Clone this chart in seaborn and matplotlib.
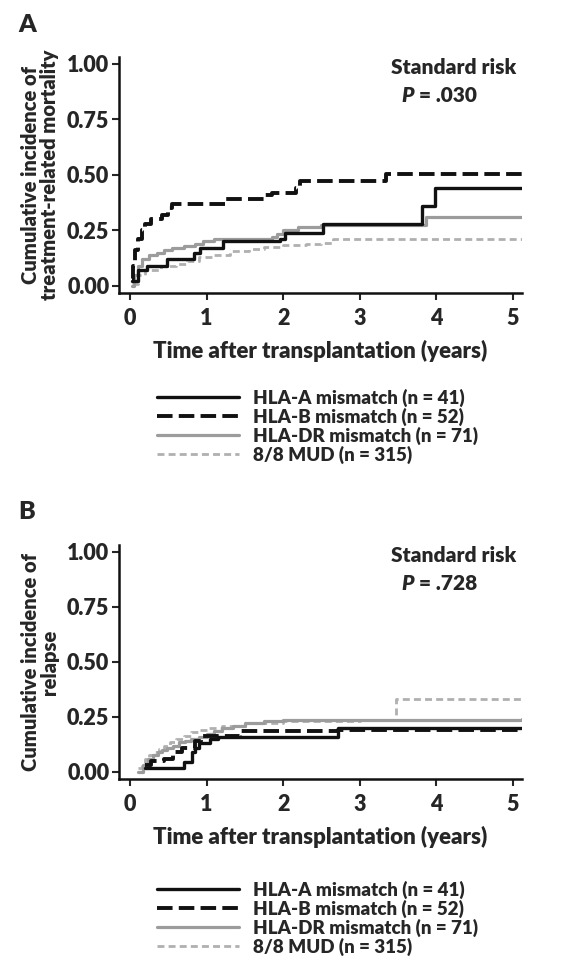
import matplotlib
matplotlib.use("Agg")
import matplotlib.pyplot as plt
import seaborn as sns
import pandas as pd

sns.set_theme(style="white")
plt.rcParams['font.family'] = ['Lato', 'DejaVu Sans']
plt.rcParams['font.weight'] = 'heavy'
W = 'heavy'

# ---------------- data ----------------
groups = ["HLA-A mismatch (n = 41)", "HLA-B mismatch (n = 52)",
          "HLA-DR mismatch (n = 71)", "8/8 MUD (n = 315)"]

# Panel A: treatment-related mortality
A_hla_a_t = [0.02, 0.10, 0.22, 0.48, 0.83, 0.92, 1.22, 1.96, 2.02, 2.52, 3.82, 3.98, 5.12]
A_hla_a_y = [0.02, 0.07, 0.09, 0.12, 0.15, 0.17, 0.20, 0.21, 0.24, 0.28, 0.36, 0.44, 0.44]
A_hla_b_t = [0.02, 0.04, 0.07, 0.10, 0.15, 0.20, 0.28, 0.42, 0.50, 0.55, 1.26, 1.75, 1.85, 2.17, 2.22, 3.35, 5.12]
A_hla_b_y = [0.03, 0.09, 0.16, 0.21, 0.25, 0.28, 0.30, 0.32, 0.35, 0.37, 0.39, 0.41, 0.42, 0.44, 0.47, 0.505, 0.505]
A_hla_dr_t = [0.02, 0.05, 0.10, 0.15, 0.25, 0.35, 0.45, 0.55, 0.70, 0.85, 0.95, 1.10, 1.85, 1.92, 2.00, 2.20, 2.50, 3.87, 5.12]
A_hla_dr_y = [0.00, 0.05, 0.09, 0.12, 0.14, 0.15, 0.16, 0.17, 0.18, 0.19, 0.20, 0.21, 0.22, 0.235, 0.25, 0.265, 0.275, 0.31, 0.31]
A_mud_t = [0.02, 0.10, 0.20, 0.40, 0.60, 0.75, 0.90, 1.10, 1.30, 1.55, 1.75, 2.00, 2.30, 2.50, 2.65, 5.12]
A_mud_y = [0.01, 0.05, 0.07, 0.09, 0.10, 0.11, 0.13, 0.14, 0.155, 0.165, 0.175, 0.185, 0.19, 0.195, 0.21, 0.21]

# Panel B: relapse
B_hla_a_t = [0.20, 0.70, 0.81, 0.85, 0.90, 1.05, 1.15, 2.72, 5.12]
B_hla_a_y = [0.02, 0.045, 0.09, 0.11, 0.13, 0.15, 0.16, 0.20, 0.20]
B_hla_b_t = [0.20, 0.28, 0.45, 0.56, 0.68, 0.85, 0.93, 1.43, 2.72, 5.12]
B_hla_b_y = [0.03, 0.05, 0.06, 0.09, 0.11, 0.14, 0.165, 0.185, 0.19, 0.19]
B_hla_dr_t = [0.10, 0.17, 0.23, 0.30, 0.36, 0.42, 0.48, 0.56, 0.64, 0.72, 0.80, 0.90, 1.00, 1.10, 1.20, 1.35, 1.50, 1.75, 2.00, 5.12]
B_hla_dr_y = [0.00, 0.03, 0.06, 0.075, 0.09, 0.10, 0.11, 0.12, 0.135, 0.14, 0.15, 0.16, 0.17, 0.185, 0.20, 0.21, 0.22, 0.23, 0.235, 0.24]
B_mud_t = [0.10, 0.15, 0.20, 0.25, 0.30, 0.38, 0.45, 0.52, 0.60, 0.70, 0.80, 0.90, 1.00, 1.20, 1.50, 2.00, 3.00, 3.47, 5.12]
B_mud_y = [0.02, 0.04, 0.06, 0.075, 0.09, 0.105, 0.12, 0.135, 0.15, 0.165, 0.18, 0.19, 0.20, 0.21, 0.22, 0.23, 0.235, 0.33, 0.33]

x_ticks = [0, 1, 2, 3, 4, 5]
y_ticks = [0.00, 0.25, 0.50, 0.75, 1.00]
y_tick_labels = ["0.00", "0.25", "0.50", "0.75", "1.00"]

styles = {
    groups[0]: dict(color="#111111", linestyle="-", lw=2.4),
    groups[1]: dict(color="#111111", linestyle=(0, (4, 1.6)), lw=2.8),
    groups[2]: dict(color="#9c9c9c", linestyle="-", lw=2.3),
    groups[3]: dict(color="#b0b0b0", linestyle=(0, (2.5, 1.5)), lw=2.0),
}

panels = [
    dict(letter="A", ylabel="Cumulative incidence of\ntreatment-related mortality", p="P = .030",
         series=[(A_hla_a_t, A_hla_a_y), (A_hla_b_t, A_hla_b_y), (A_hla_dr_t, A_hla_dr_y), (A_mud_t, A_mud_y)],
         rect=[119/562, 1-293/968, (522-119)/562, (293-57)/968], top=0, leg_y=381),
    dict(letter="B", ylabel="Cumulative incidence of\nrelapse", p="P = .728",
         series=[(B_hla_a_t, B_hla_a_y), (B_hla_b_t, B_hla_b_y), (B_hla_dr_t, B_hla_dr_y), (B_mud_t, B_mud_y)],
         rect=[119/562, 1-779/968, (522-119)/562, (779-545)/968], top=487, leg_y=873),
]

fig = plt.figure(figsize=(5.62, 9.68), dpi=100)

for pan in panels:
    ax = fig.add_axes(pan["rect"])
    order = [3, 2, 0, 1]
    for i in order:
        g = groups[i]
        t, y = pan["series"][i]
        df = pd.DataFrame({"time": t, "value": y})
        st = styles[g]
        sns.lineplot(data=df, x="time", y="value", ax=ax, color=st["color"],
                     linestyle=st["linestyle"], linewidth=st["lw"],
                     drawstyle="steps-post", estimator=None, sort=False, label=g)
    ax.set_xlim(-0.144, 5.12)
    ax.set_ylim(-0.032, 1.03)
    ax.set_xticks(x_ticks)
    ax.set_xticklabels([str(v) for v in x_ticks], fontsize=15.5, fontweight=W)
    ax.set_yticks(y_ticks)
    ax.set_yticklabels(y_tick_labels, fontsize=15.5, fontweight=W)
    ax.tick_params(axis="x", direction="out", length=5, width=1.5, pad=6, bottom=True)
    ax.tick_params(axis="y", direction="out", length=5, width=1.5, pad=2, left=True)
    for s in ["top", "right"]:
        ax.spines[s].set_visible(False)
    for s in ["left", "bottom"]:
        ax.spines[s].set_linewidth(1.8)
        ax.spines[s].set_color("#111111")
    ax.set_xlabel("Time after transplantation (years)", fontsize=16, fontweight=W, labelpad=8)
    ax.set_ylabel(pan["ylabel"], fontsize=14.5, fontweight=W, labelpad=6, linespacing=1.0)
    ax.text(0.985, 0.955, "Standard risk", transform=ax.transAxes, ha="right", va="center",
            fontsize=15, fontweight=W)
    pv = pan["p"].split("=")
    ax.text(0.70, 0.835, "P", transform=ax.transAxes, ha="left",
            va="center", fontsize=15, fontweight=W, style="italic")
    ax.text(0.745, 0.835, "=" + pv[1], transform=ax.transAxes, ha="left", va="center",
            fontsize=15, fontweight=W)
    handles, labels = ax.get_legend_handles_labels()
    ax.get_legend().remove()
    hmap = dict(zip(labels, handles))
    top = pan["top"]
    fig.text(18/562, 1-(top+25)/968, pan["letter"], fontsize=18, fontweight=W,
             ha="left", va="center")
    leg = fig.legend([hmap[g] for g in groups], groups, loc="upper left",
                     bbox_to_anchor=(149/562, 1-pan["leg_y"]/968), frameon=False,
                     fontsize=13.5, handlelength=4.4, labelspacing=0.05, handletextpad=0.75,
                     borderaxespad=0)
    for txt in leg.get_texts():
        txt.set_fontweight(W)

fig.savefig("out.png", dpi=100)
